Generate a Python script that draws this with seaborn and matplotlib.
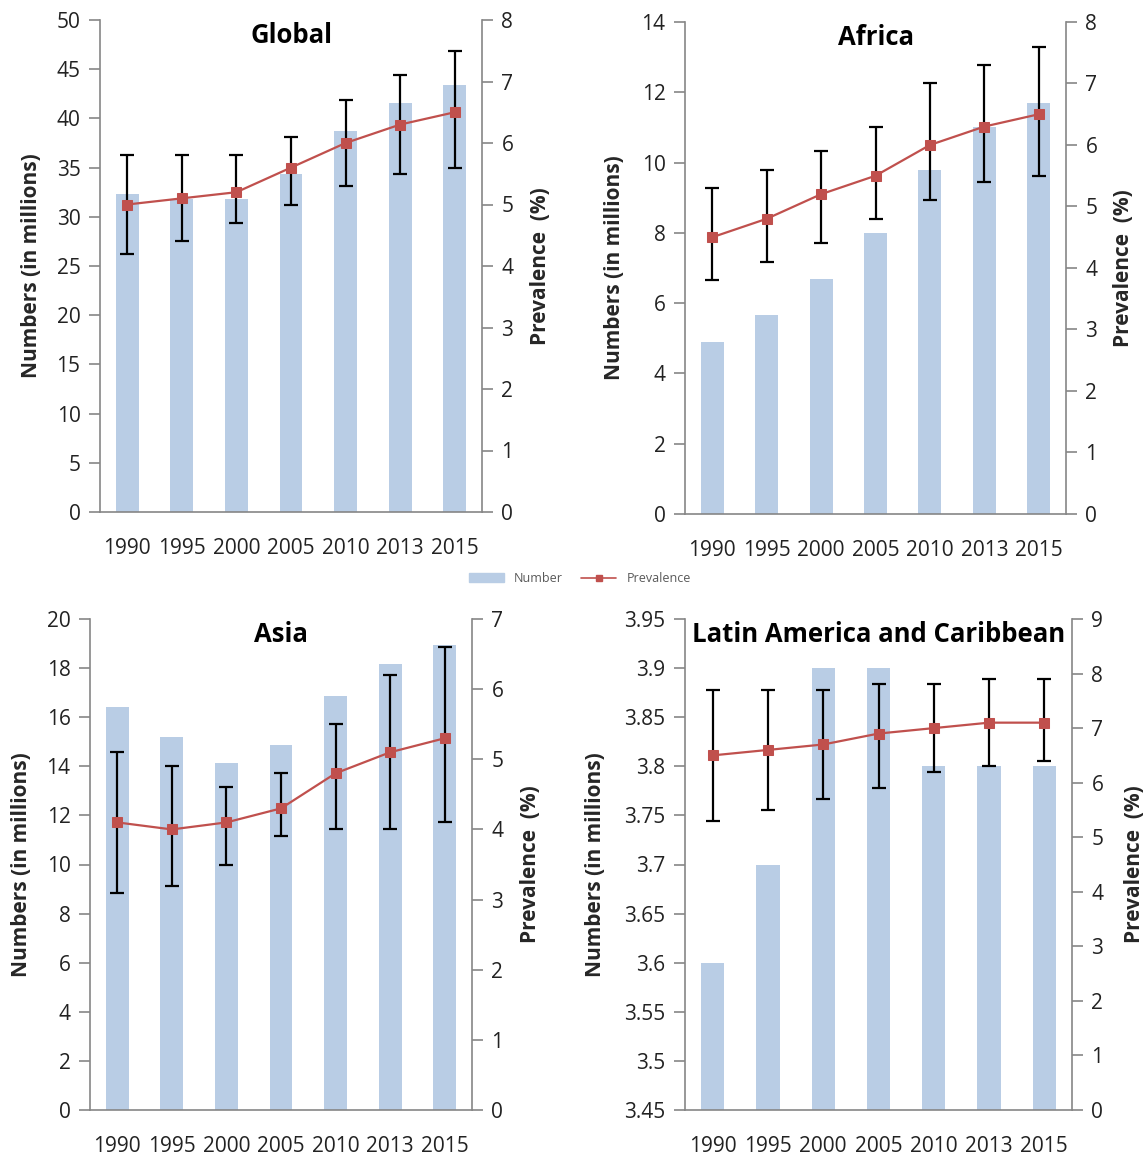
import seaborn as sns
import matplotlib.pyplot as plt
import numpy as np
from matplotlib.patches import Patch
from matplotlib.lines import Line2D
from matplotlib.ticker import FixedLocator, FuncFormatter

years = ["1990", "1995", "2000", "2005", "2010", "2013", "2015"]

global_num = [32.3, 31.8, 31.8, 34.3, 38.7, 41.6, 43.4]
global_prev = [5.0, 5.1, 5.2, 5.6, 6.0, 6.3, 6.5]
global_lo = [4.2, 4.4, 4.7, 5.0, 5.3, 5.5, 5.6]
global_hi = [5.8, 5.8, 5.8, 6.1, 6.7, 7.1, 7.5]

africa_num = [4.9, 5.65, 6.7, 8.0, 9.8, 11.0, 11.7]
africa_prev = [4.5, 4.8, 5.2, 5.5, 6.0, 6.3, 6.5]
africa_lo = [3.8, 4.1, 4.4, 4.8, 5.1, 5.4, 5.5]
africa_hi = [5.3, 5.6, 5.9, 6.3, 7.0, 7.3, 7.6]

asia_num = [16.4, 15.2, 14.15, 14.85, 16.85, 18.15, 18.95]
asia_prev = [4.1, 4.0, 4.1, 4.3, 4.8, 5.1, 5.3]
asia_lo = [3.1, 3.2, 3.5, 3.9, 4.0, 4.0, 4.1]
asia_hi = [5.1, 4.9, 4.6, 4.8, 5.5, 6.2, 6.6]

latam_num = [3.6, 3.7, 3.9, 3.9, 3.8, 3.8, 3.8]
latam_prev = [6.5, 6.6, 6.7, 6.9, 7.0, 7.1, 7.1]
latam_lo = [5.3, 5.5, 5.7, 5.9, 6.2, 6.3, 6.4]
latam_hi = [7.7, 7.7, 7.7, 7.8, 7.8, 7.9, 7.9]

BAR = "#B9CDE5"
RED = "#C0504D"
SPINE = "#868686"

sns.set_style("white")
plt.rcParams['font.family'] = ['Open Sans', 'DejaVu Sans']

W, H = 1148, 1157
fig = plt.figure(figsize=(W / 100, H / 100), dpi=100)

# name, nums, prev, lo, hi, left ylim/step, right ymax, box px (l, r, top, bottom), label x px
panels = [
    ("Global", global_num, global_prev, global_lo, global_hi, (0, 50, 5), 8, (100, 482, 20, 512), 42, 530),
    ("Africa", africa_num, africa_prev, africa_lo, africa_hi, (0, 14, 2), 8, (685, 1066, 22, 514), 625, 1113),
    ("Asia", asia_num, asia_prev, asia_lo, asia_hi, (0, 20, 2), 7, (90, 472, 619, 1110), 32, 520),
    ("Latin America and Caribbean", latam_num, latam_prev, latam_lo, latam_hi, (3.45, 3.95, 0.05), 9,
     (685, 1072, 619, 1110), 606, 1124),
]

fmt = FuncFormatter(lambda v, p: ("%.2f" % v).rstrip("0").rstrip("."))

for title, nums, prev, lo, hi, (ymin, ymax, ystep), rmax, (l, r, t, b), lx, rx in panels:
    ax = fig.add_axes([l / W, 1 - b / H, (r - l) / W, (b - t) / H])
    sns.barplot(x=years, y=nums, ax=ax, color=BAR, saturation=1, width=0.42, edgecolor="none")
    ax.set_ylim(ymin, ymax)
    ax.yaxis.set_major_locator(FixedLocator(np.round(np.arange(ymin, ymax + ystep / 2, ystep), 2)))
    ax.yaxis.set_major_formatter(fmt)

    ax2 = ax.twinx()
    x = np.arange(len(years))
    yerr = [np.array(prev) - np.array(lo), np.array(hi) - np.array(prev)]
    ax2.errorbar(x, prev, yerr=yerr, fmt="none", ecolor="black", elinewidth=1.6, capsize=5, capthick=1.6, zorder=2)
    sns.lineplot(x=x, y=prev, ax=ax2, color=RED, linewidth=1.6, marker="s", markersize=7,
                 markeredgecolor=RED, zorder=3)
    ax2.set_ylim(0, rmax)
    ax2.set_yticks(range(0, rmax + 1))
    ax.set_xlim(-0.5, len(years) - 0.5)

    # category boundary ticks on x
    ax.set_xticks(np.arange(-0.5, len(years)), minor=True)
    ax.tick_params(axis="x", which="major", length=0, labelsize=15, pad=19, colors="#222222")
    ax.tick_params(axis="x", which="minor", length=7, width=1.2, color=SPINE, direction="out")
    ax.tick_params(axis="y", length=8, width=1.2, color=SPINE, direction="out", labelsize=15,
                   labelcolor="#222222", pad=6)
    ax2.tick_params(axis="y", length=8, width=1.2, color=SPINE, direction="out", labelsize=15,
                    labelcolor="#222222", pad=6)

    for a in (ax, ax2):
        a.spines["top"].set_visible(False)
        for s in ("left", "right", "bottom"):
            a.spines[s].set_color(SPINE)
            a.spines[s].set_linewidth(1.2)
        a.grid(False)
    ax2.spines["left"].set_visible(False)
    ax2.spines["bottom"].set_visible(False)
    ax.spines["right"].set_visible(False)

    ax.set_ylabel("Numbers (in millions)", fontsize=15, fontweight="bold")
    ax.yaxis.set_label_coords((lx - l) / (r - l), 0.5)
    ax2.set_ylabel("Prevalence  (%)", fontsize=15, fontweight="bold")
    ax2.yaxis.set_label_coords((rx - l) / (r - l), 0.5)
    ax.set_xlabel("")

    ax.text(0.5, 0.995, title, transform=ax.transAxes, ha="center", va="top",
            fontsize=18.5, fontweight="bold", color="black")

handles = [Patch(color=BAR, label="Number"),
           Line2D([], [], color=RED, marker="s", markersize=4, linewidth=1.2, label="Prevalence")]
fig.legend(handles=handles, loc="center", bbox_to_anchor=(0.505, 0.5), ncol=2, frameon=False,
           fontsize=9, labelcolor="#595959", handlelength=2.8, columnspacing=1.5)

fig.savefig("out.png", dpi=100)
